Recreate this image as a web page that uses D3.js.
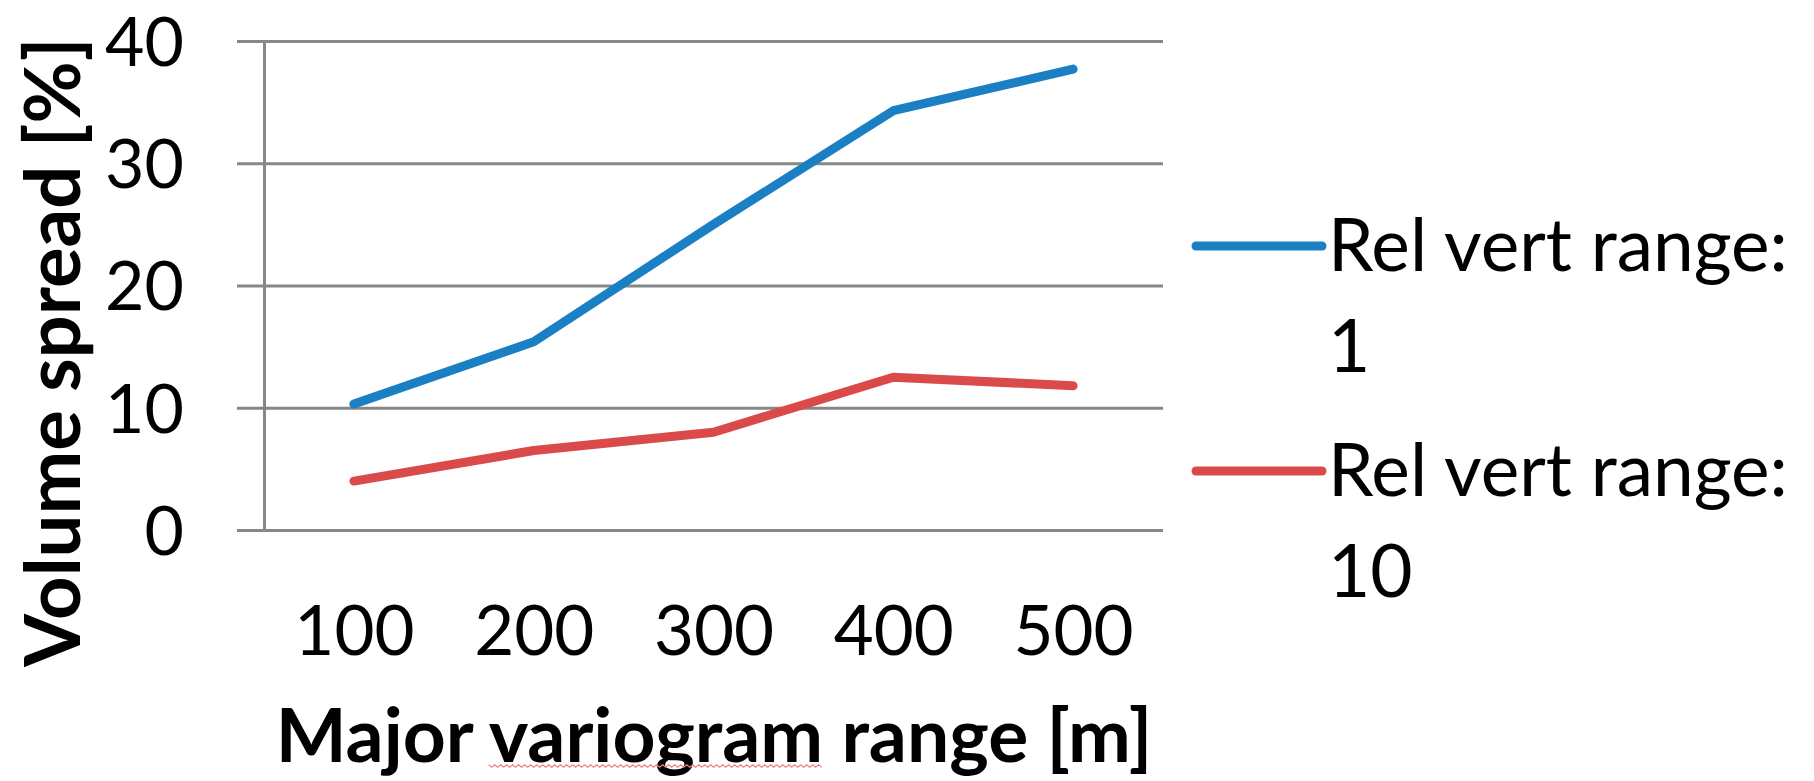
<!DOCTYPE html>
<html>
<head>
<meta charset="utf-8">
<script src="https://cdn.jsdelivr.net/npm/d3@7"></script>
<style>
  html, body { margin: 0; padding: 0; background: #fff; }
  svg text { font-family: Lato, "Open Sans", sans-serif; fill: #000; }
</style>
</head>
<body>
<svg id="chart" width="1814" height="781"></svg>
<script>
// data
const ranges = ["100", "200", "300", "400", "500"];
const relVert1 = [10.3, 15.4, 25.0, 34.3, 37.7];
const relVert10 = [4.0, 6.5, 8.0, 12.5, 11.8];
const yTicks = [0, 10, 20, 30, 40];
const seriesNames = ["Rel vert range: 1", "Rel vert range: 10"];
const seriesColors = ["#1a7fc3", "#db4a4a"];

const svg = d3.select("#chart");
const plotLeft = 264, plotRight = 1163, plotTop = 41, plotBottom = 530;
const plotW = plotRight - plotLeft;

const x = d3.scalePoint().domain(ranges).range([plotLeft, plotRight]).padding(0.5);
const y = d3.scaleLinear().domain([0, 40]).range([plotBottom, plotTop]);

// grid lines
const grid = svg.append("g")
  .attr("transform", "translate(" + plotLeft + ",0)")
  .call(d3.axisLeft(y).tickValues(yTicks).tickSize(-plotW).tickFormat(""));
grid.select(".domain").remove();
grid.selectAll("line").attr("stroke", "#878787").attr("stroke-width", 3);

// y axis with outside ticks and labels
const yAxis = svg.append("g")
  .attr("transform", "translate(" + plotLeft + ",0)")
  .call(d3.axisLeft(y).tickValues(yTicks).tickSize(27).tickSizeOuter(0).tickPadding(53));
yAxis.select(".domain").attr("stroke", "#878787").attr("stroke-width", 3);
yAxis.selectAll("line").attr("stroke", "#878787").attr("stroke-width", 3);
yAxis.selectAll("text")
  .attr("font-size", 68)
  .attr("font-family", "Lato")
  .attr("dy", "0.36em");

// x axis labels only
const xAxis = svg.append("g")
  .attr("transform", "translate(0," + plotBottom + ")")
  .call(d3.axisBottom(x).tickSize(0).tickPadding(0));
xAxis.select(".domain").remove();
xAxis.selectAll("text")
  .attr("font-size", 69)
  .attr("font-family", "Lato")
  .attr("y", 125)
  .attr("dy", null);

// lines
const line = d3.line()
  .x((d, i) => x(ranges[i]))
  .y(d => y(d));

[relVert1, relVert10].forEach((s, k) => {
  svg.append("path")
    .datum(s)
    .attr("d", line)
    .attr("fill", "none")
    .attr("stroke", seriesColors[k])
    .attr("stroke-width", 9)
    .attr("stroke-linejoin", "round")
    .attr("stroke-linecap", "round");
});

// axis titles
svg.append("text")
  .attr("transform", "translate(80,352) rotate(-90)")
  .attr("text-anchor", "middle")
  .attr("font-size", 76)
  .attr("font-weight", "bold")
  .text("Volume spread [%]");

const titleX = 714, titleY = 762;
const xTitle = svg.append("text")
  .attr("x", titleX)
  .attr("y", titleY)
  .attr("text-anchor", "middle")
  .attr("font-size", 75)
  .attr("font-weight", "bold");
xTitle.append("tspan").text("Major ");
xTitle.append("tspan").text("variogram");
xTitle.append("tspan").text(" range [m]");

// spell-check squiggle under "variogram"
const node = xTitle.node();
const full = node.getComputedTextLength();
const start = node.getSubStringLength(0, 6);
const wlen = node.getSubStringLength(6, 9);
const x0 = titleX - full / 2 + start, x1 = x0 + wlen;
const pts = d3.range(x0, x1, 3).map((px, i) => [px, titleY + 4 + (i % 2 ? 1.2 : -1.2)]);
svg.append("path")
  .attr("d", d3.line()(pts))
  .attr("fill", "none")
  .attr("stroke", "#f08080")
  .attr("stroke-width", 1.2);

// legend
const legendY = [246, 471];
seriesNames.forEach((name, k) => {
  const g = svg.append("g").attr("transform", "translate(0," + legendY[k] + ")");
  g.append("line")
    .attr("x1", 1196).attr("x2", 1322)
    .attr("stroke", seriesColors[k])
    .attr("stroke-width", 9)
    .attr("stroke-linecap", "round");
  const parts = name.split(": ");
  g.append("text")
    .attr("x", 1328).attr("y", 25)
    .attr("font-size", 73)
    .text(parts[0] + ":");
  g.append("text")
    .attr("x", 1328).attr("y", 126)
    .attr("font-size", 73)
    .text(parts[1]);
});
</script>
</body>
</html>
